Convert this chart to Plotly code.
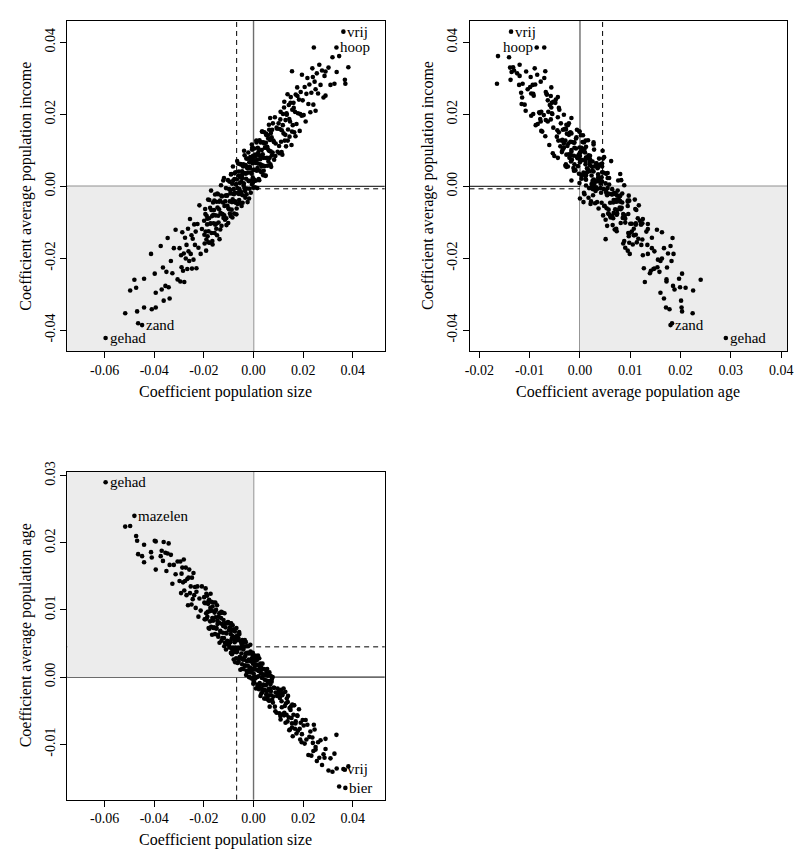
import plotly.graph_objects as go

# ---------------- data (coefficients per word) ----------------
# first six entries are the labelled words
words = ["gehad", "zand", "mazelen", "vrij", "hoop", "bier"]

size = [
    -0.0596, -0.0449, -0.0480, 0.0362, 0.0334, 0.0370,
    -0.0517, -0.0497, -0.0473, -0.0469, -0.0465, -0.0441, -0.0441, -0.0413, -0.0410, -0.0398, -0.0394, -0.0394, -0.0370,
    0.0243, 0.0382, 0.0368, 0.0326, 0.0286, 0.0239, 0.0195, 0.0155, 0.0250, 0.0290,
    -0.0365, -0.0362, -0.0355, -0.0351, -0.0346, -0.0342, -0.0338, -0.0333, -0.0327, -0.0321, -0.0314, -0.0306, -0.0374,
    -0.0298, -0.0295, -0.0292, -0.0290, -0.0287, -0.0284, -0.0281, -0.0279, -0.0276, -0.0273,
    -0.0270, -0.0267, -0.0264, -0.0262, -0.0259, -0.0256, -0.0253, -0.0250, -0.0248, -0.0245,
    -0.0242, -0.0239, -0.0236, -0.0233, -0.0230, -0.0226, -0.0222, -0.0218, -0.0213, -0.0208,
    -0.0199, -0.0197, -0.0195, -0.0193, -0.0191, -0.0189, -0.0187, -0.0185, -0.0183, -0.0181,
    -0.0179, -0.0177, -0.0175, -0.0173, -0.0171, -0.0169, -0.0167, -0.0165, -0.0163, -0.0161,
    -0.0159, -0.0157, -0.0155, -0.0153, -0.0151, -0.0149, -0.0147, -0.0145, -0.0143, -0.0141,
    -0.0139, -0.0137, -0.0135, -0.0133, -0.0131, -0.0129, -0.0127, -0.0125, -0.0123, -0.0121,
    -0.0119, -0.0117, -0.0115, -0.0113, -0.0111, -0.0109, -0.0107, -0.0105, -0.0103, -0.0101,
    -0.0099, -0.0097, -0.0096, -0.0094, -0.0092, -0.0091, -0.0089, -0.0088, -0.0086, -0.0084,
    -0.0083, -0.0081, -0.0080, -0.0078, -0.0077, -0.0075, -0.0073, -0.0072, -0.0070, -0.0069,
    -0.0067, -0.0065, -0.0064, -0.0062, -0.0061, -0.0059, -0.0057, -0.0056, -0.0054, -0.0053,
    -0.0051, -0.0049, -0.0048, -0.0046, -0.0045, -0.0043, -0.0041, -0.0040, -0.0038, -0.0037,
    -0.0035, -0.0033, -0.0032, -0.0030, -0.0029, -0.0027, -0.0025, -0.0024, -0.0022, -0.0021,
    -0.0019, -0.0017, -0.0016, -0.0014, -0.0013, -0.0011, -0.0009, -0.0008, -0.0006, -0.0005,
    -0.0004, -0.0003, -0.0002, -0.0001, -0.0007,
    0.0001, 0.0002, 0.0003, 0.0005, 0.0006, 0.0007, 0.0009, 0.0010, 0.0011, 0.0013,
    0.0014, 0.0015, 0.0017, 0.0018, 0.0019, 0.0021, 0.0022, 0.0024, 0.0025, 0.0027,
    0.0028, 0.0030, 0.0031, 0.0033, 0.0034, 0.0036, 0.0037, 0.0039, 0.0040, 0.0042,
    0.0044, 0.0045, 0.0047, 0.0049, 0.0050, 0.0052, 0.0054, 0.0055, 0.0057, 0.0059,
    0.0061, 0.0063, 0.0065, 0.0067, 0.0069, 0.0071, 0.0073, 0.0075, 0.0077, 0.0080,
    0.0083, 0.0086, 0.0089, 0.0093, 0.0097,
    0.0101, 0.0104, 0.0106, 0.0109, 0.0111, 0.0114, 0.0116, 0.0119, 0.0121, 0.0124,
    0.0126, 0.0129, 0.0131, 0.0134, 0.0137, 0.0139, 0.0142, 0.0145, 0.0147, 0.0150,
    0.0153, 0.0156, 0.0158, 0.0161, 0.0164, 0.0167, 0.0170, 0.0173, 0.0176, 0.0179,
    0.0183, 0.0186, 0.0190, 0.0194, 0.0198,
    0.0202, 0.0206, 0.0210, 0.0213, 0.0217, 0.0221, 0.0225, 0.0229, 0.0233, 0.0237,
    0.0241, 0.0246, 0.0250, 0.0255, 0.0260, 0.0265, 0.0270, 0.0276, 0.0282, 0.0290,
    0.0302, 0.0310, 0.0318, 0.0335, 0.0345,
    -0.0198, -0.0194, -0.0190, -0.0186, -0.0182, -0.0178, -0.0174, -0.0170, -0.0166, -0.0162,
    -0.0158, -0.0154, -0.0150, -0.0146, -0.0142, -0.0138, -0.0134, -0.0130, -0.0126, -0.0122,
    -0.0118, -0.0114, -0.0110, -0.0106, -0.0102,
    -0.0098, -0.0095, -0.0093, -0.0090, -0.0087, -0.0085, -0.0082, -0.0079, -0.0076, -0.0074,
    -0.0071, -0.0068, -0.0066, -0.0063, -0.0060, -0.0058, -0.0055, -0.0052, -0.0050, -0.0047,
    -0.0044, -0.0042, -0.0039, -0.0036, -0.0034, -0.0031, -0.0028, -0.0026, -0.0023, -0.0020,
    -0.0018, -0.0015, -0.0012, -0.0010, -0.0007, -0.0005, -0.0003, -0.0002, -0.0001, 0.0000,
    0.0004, 0.0008, 0.0012, 0.0016, 0.0020, 0.0023, 0.0026, 0.0029, 0.0032, 0.0035,
    0.0038, 0.0041, 0.0043, 0.0046, 0.0048, 0.0051, 0.0053, 0.0056, 0.0058, 0.0060,
    0.0062, 0.0064, 0.0066, 0.0068, 0.0070, 0.0074, 0.0078, 0.0082, 0.0088, 0.0095,
    0.0103, 0.0108, 0.0113, 0.0118, 0.0123, 0.0128, 0.0133, 0.0138, 0.0144, 0.0149,
    0.0155, 0.0162, 0.0169, 0.0177, 0.0188,
]

income = [
    -0.0422, -0.0386, -0.0260, 0.0430, 0.0386, 0.0285,
    -0.0353, -0.0290, -0.0282, -0.0348, -0.0381, -0.0337, -0.0257, -0.0188, -0.0342, -0.0243, -0.0337, -0.0296, -0.0287,
    0.0386, 0.0331, 0.0296, 0.0285, 0.0307, 0.0304, 0.0310, 0.0320, 0.0270, 0.0252,
    -0.0226, -0.0318, -0.0277, -0.0238, -0.0144, -0.0281, -0.0312, -0.0208, -0.0242, -0.0172, -0.0121, -0.0259, -0.0166,
    -0.0172, -0.0265, -0.0192, -0.0225, -0.0128, -0.0235, -0.0187, -0.0266, -0.0143, -0.0201,
    -0.0163, -0.0230, -0.0118, -0.0181, -0.0208, -0.0091, -0.0188, -0.0136, -0.0229, -0.0146,
    -0.0204, -0.0106, -0.0163, -0.0126, -0.0228, -0.0105, -0.0171, -0.0053, -0.0188, -0.0119,
    -0.0096, -0.0159, -0.0063, -0.0126, -0.0179, -0.0082, -0.0106, -0.0139, -0.0037, -0.0125,
    -0.0089, -0.0157, -0.0060, -0.0103, -0.0012, -0.0130, -0.0083, -0.0162, -0.0045, -0.0103,
    -0.0066, -0.0130, -0.0023, -0.0081, -0.0104, -0.0043, -0.0136, -0.0059, -0.0022, -0.0101,
    -0.0064, -0.0147, -0.0040, -0.0074, 0.0003, -0.0110, -0.0028, -0.0077, -0.0045, -0.0088,
    0.0023, -0.0055, -0.0093, -0.0026, -0.0005, -0.0108, -0.0026, -0.0054, 0.0017, -0.0061,
    -0.0064, 0.0013, -0.0042, -0.0010, -0.0083, 0.0033, -0.0020, -0.0065, 0.0007, -0.0036,
    0.0055, -0.0043, -0.0008, -0.0076, 0.0020, -0.0018, 0.0039, -0.0046, 0.0006, -0.0078,
    0.0019, -0.0005, -0.0049, 0.0063, -0.0021, 0.0041, -0.0008, -0.0047, 0.0025, 0.0061,
    -0.0022, 0.0014, -0.0055, 0.0042, 0.0023, -0.0025, 0.0061, 0.0002, 0.0099, -0.0005,
    0.0037, -0.0032, 0.0059, 0.0021, 0.0077, -0.0006, 0.0050, -0.0044, 0.0038, 0.0094,
    0.0015, 0.0067, -0.0007, 0.0050, 0.0081, -0.0018, 0.0069, 0.0035, 0.0102, 0.0018,
    0.0064, 0.0009, 0.0085, 0.0046, 0.0116,
    0.0073, 0.0019, 0.0105, 0.0046, -0.0003, 0.0088, 0.0065, 0.0016, 0.0127, 0.0043,
    0.0074, -0.0005, 0.0107, 0.0063, 0.0094, 0.0020, 0.0086, 0.0128, 0.0044, 0.0075,
    0.0061, 0.0123, 0.0039, 0.0101, 0.0152, 0.0058, 0.0089, 0.0031, 0.0122, 0.0079,
    0.0150, 0.0056, 0.0108, 0.0030, 0.0121, 0.0142, 0.0079, 0.0110, 0.0057, 0.0133,
    0.0100, 0.0157, 0.0079, 0.0190, 0.0097, 0.0054, 0.0136, 0.0157, 0.0094, 0.0127,
    0.0074, 0.0192, 0.0119, 0.0163, 0.0096,
    0.0175, 0.0092, 0.0159, 0.0207, 0.0124, 0.0156, 0.0088, 0.0201, 0.0147, 0.0235,
    0.0127, 0.0184, 0.0111, 0.0199, 0.0256, 0.0158, 0.0226, 0.0138, 0.0180, 0.0248,
    0.0115, 0.0213, 0.0170, 0.0232, 0.0150, 0.0207, 0.0255, 0.0173, 0.0275, 0.0203,
    0.0241, 0.0154, 0.0262, 0.0196, 0.0239,
    0.0198, 0.0276, 0.0180, 0.0257, 0.0301, 0.0229, 0.0283, 0.0206, 0.0260, 0.0328,
    0.0227, 0.0291, 0.0210, 0.0314, 0.0258, 0.0338, 0.0282, 0.0322, 0.0247, 0.0319,
    0.0330, 0.0282, 0.0359, 0.0318, 0.0362,
    -0.0135, -0.0077, -0.0148, -0.0090, -0.0156, -0.0038, -0.0104, -0.0066, -0.0152, -0.0079,
    -0.0040, -0.0107, -0.0118, -0.0020, -0.0082, -0.0043, -0.0120, -0.0026, -0.0078, 0.0016,
    -0.0081, -0.0042, -0.0089, -0.0025, -0.0102,
    -0.0008, -0.0076, -0.0019, 0.0034, -0.0044, -0.0087, 0.0016, -0.0022, 0.0036, -0.0042,
    0.0005, -0.0062, 0.0070, -0.0018, 0.0030, -0.0038, 0.0009, 0.0062, -0.0016, 0.0031,
    -0.0046, 0.0055, 0.0008, 0.0086, -0.0013, 0.0035, -0.0022, 0.0054, 0.0077, 0.0015,
    -0.0034, 0.0054, 0.0077, 0.0038, 0.0006, 0.0108, 0.0024, 0.0070, -0.0004, 0.0082,
    0.0015, 0.0084, 0.0122, 0.0051, 0.0104, 0.0017, 0.0085, 0.0122, 0.0055, 0.0152,
    0.0080, 0.0043, 0.0119, 0.0107, 0.0029, 0.0146, 0.0078, 0.0106, 0.0142, 0.0069,
    0.0171, 0.0098, 0.0129, 0.0061, 0.0148, 0.0086, 0.0175, 0.0123, 0.0084, 0.0160,
    0.0112, 0.0186, 0.0095, 0.0170, 0.0219, 0.0143, 0.0203, 0.0127, 0.0187, 0.0232,
    0.0152, 0.0218, 0.0139, 0.0251, 0.0201,
]

age = [
    0.0290, 0.0180, 0.0240, -0.0137, -0.0086, -0.0165,
    0.0224, 0.0225, 0.0210, 0.0203, 0.0183, 0.0171, 0.0197, 0.0186, 0.0178, 0.0203, 0.0202, 0.0160, 0.0188,
    -0.0071, -0.0133, -0.0138, -0.0114, -0.0120, -0.0098, -0.0085, -0.0069, -0.0104, -0.0092,
    0.0173, 0.0201, 0.0185, 0.0158, 0.0184, 0.0199, 0.0167, 0.0182, 0.0139, 0.0167, 0.0153, 0.0172, 0.0180,
    0.0143, 0.0172, 0.0125, 0.0154, 0.0163, 0.0141, 0.0175, 0.0129, 0.0143, 0.0163,
    0.0122, 0.0146, 0.0107, 0.0148, 0.0160, 0.0125, 0.0135, 0.0108, 0.0148, 0.0116,
    0.0155, 0.0122, 0.0134, 0.0103, 0.0127, 0.0135, 0.0090, 0.0117, 0.0099, 0.0135,
    0.0119, 0.0086, 0.0110, 0.0132, 0.0095, 0.0087, 0.0121, 0.0097, 0.0109, 0.0073,
    0.0115, 0.0098, 0.0083, 0.0124, 0.0075, 0.0099, 0.0063, 0.0105, 0.0084, 0.0111,
    0.0074, 0.0096, 0.0064, 0.0089, 0.0100, 0.0073, 0.0107, 0.0079, 0.0063, 0.0090,
    0.0081, 0.0051, 0.0095, 0.0067, 0.0088, 0.0054, 0.0079, 0.0096, 0.0066, 0.0085,
    0.0058, 0.0095, 0.0051, 0.0074, 0.0041, 0.0065, 0.0080, 0.0049, 0.0082, 0.0053,
    0.0070, 0.0044, 0.0080, 0.0052, 0.0064, 0.0036, 0.0070, 0.0057, 0.0041, 0.0077,
    0.0044, 0.0069, 0.0026, 0.0056, 0.0039, 0.0068, 0.0044, 0.0060, 0.0028, 0.0073,
    0.0038, 0.0055, 0.0021, 0.0044, 0.0058, 0.0027, 0.0064, 0.0030, 0.0043, 0.0011,
    0.0054, 0.0035, 0.0048, 0.0019, 0.0055, 0.0026, 0.0041, 0.0012, 0.0045, 0.0026,
    0.0055, 0.0017, 0.0035, 0.0003, 0.0046, 0.0024, 0.0035, 0.0007, 0.0046, 0.0010,
    0.0026, 0.0000, 0.0035, 0.0014, 0.0048, 0.0008, 0.0025, -0.0002, 0.0028, 0.0012,
    0.0033, -0.0001, 0.0020, -0.0010, 0.0027,
    0.0005, 0.0027, -0.0008, 0.0016, 0.0032, -0.0002, 0.0019, -0.0017, 0.0011, 0.0025,
    0.0000, 0.0018, -0.0011, 0.0032, 0.0001, 0.0011, -0.0018, 0.0016, -0.0009, 0.0020,
    -0.0028, 0.0005, 0.0014, -0.0017, -0.0001, 0.0020, -0.0022, 0.0004, -0.0011, 0.0012,
    -0.0019, -0.0004, -0.0032, 0.0003, -0.0012, 0.0006, -0.0021, 0.0012, -0.0029, -0.0008,
    -0.0035, -0.0006, -0.0044, -0.0017, 0.0002, -0.0027, -0.0007, -0.0034, 0.0000, -0.0029,
    -0.0016, -0.0044, -0.0023, -0.0053, -0.0017,
    -0.0022, -0.0054, -0.0031, -0.0063, -0.0019, -0.0045, -0.0027, -0.0055, -0.0017, -0.0053,
    -0.0043, -0.0068, -0.0039, -0.0032, -0.0066, -0.0028, -0.0060, -0.0046, -0.0078, -0.0044,
    -0.0061, -0.0041, -0.0088, -0.0056, -0.0042, -0.0077, -0.0066, -0.0084, -0.0057, -0.0080,
    -0.0048, -0.0077, -0.0068, -0.0097, -0.0064,
    -0.0072, -0.0099, -0.0064, -0.0093, -0.0071, -0.0116, -0.0089, -0.0081, -0.0117, -0.0090,
    -0.0110, -0.0078, -0.0108, -0.0125, -0.0097, -0.0120, -0.0094, -0.0131, -0.0115, -0.0107,
    -0.0139, -0.0121, -0.0141, -0.0136, -0.0163,
    0.0111, 0.0086, 0.0124, 0.0090, 0.0113, 0.0072, 0.0103, 0.0112, 0.0088, 0.0073,
    0.0098, 0.0111, 0.0072, 0.0084, 0.0060, 0.0095, 0.0069, 0.0097, 0.0058, 0.0076,
    0.0046, 0.0080, 0.0066, 0.0054, 0.0081,
    0.0047, 0.0074, 0.0053, 0.0080, 0.0034, 0.0061, 0.0037, 0.0071, 0.0052, 0.0022,
    0.0058, 0.0037, 0.0062, 0.0042, 0.0023, 0.0067, 0.0029, 0.0043, 0.0052, 0.0012,
    0.0043, 0.0028, 0.0051, 0.0017, 0.0031, 0.0052, 0.0009, 0.0036, 0.0017, 0.0036,
    0.0000, 0.0024, 0.0038, 0.0007, 0.0023, -0.0001, 0.0036, 0.0011, 0.0023, -0.0006,
    0.0025, 0.0000, 0.0027, -0.0013, 0.0009, 0.0028, -0.0012, 0.0008, -0.0024, -0.0001,
    0.0012, -0.0012, -0.0032, 0.0003, 0.0011, -0.0026, -0.0005, -0.0033, 0.0002, -0.0018,
    -0.0027, 0.0007, -0.0035, -0.0011, -0.0021, -0.0003, -0.0038, -0.0016, -0.0051, -0.0028,
    -0.0025, -0.0058, -0.0036, -0.0024, -0.0057, -0.0022, -0.0056, -0.0037, -0.0079, -0.0049,
    -0.0075, -0.0042, -0.0069, -0.0058, -0.0093,
]

# reference (dashed) lines: average coefficients
mean_size = -0.0068
mean_income = -0.0007
mean_age = 0.0045

size_ticks = [-0.06, -0.04, -0.02, 0.0, 0.02, 0.04]
size_labels = ["-0.06", "-0.04", "-0.02", "0.00", "0.02", "0.04"]
income_ticks = [-0.04, -0.02, 0.0, 0.02, 0.04]
income_labels = ["-0.04", "-0.02", "0.00", "0.02", "0.04"]
age_ticks_x = [-0.02, -0.01, 0.0, 0.01, 0.02, 0.03, 0.04]
age_labels_x = ["-0.02", "-0.01", "0.00", "0.01", "0.02", "0.03", "0.04"]
age_ticks_y = [-0.01, 0.0, 0.01, 0.02, 0.03]
age_labels_y = ["-0.01", "0.00", "0.01", "0.02", "0.03"]

title_size = "Coefficient population size"
title_income = "Coefficient average population income"
title_age = "Coefficient average population age"

# labelled words per panel: (word, side)
labels_p1 = [("vrij", "right"), ("hoop", "right"), ("zand", "right"), ("gehad", "right")]
labels_p2 = [("vrij", "right"), ("hoop", "left"), ("zand", "right"), ("gehad", "right")]
labels_p3 = [("gehad", "right"), ("mazelen", "right"), ("vrij", "right"), ("bier", "right")]

# ---------------- layout geometry ----------------
W, H = 800, 856
FONT = "Liberation Serif"
size_range = [-0.0751, 0.05285]
income_range = [-0.0458, 0.0460]
age_range_x = [-0.02196, 0.04118]
age_range_y = [-0.01825, 0.0306]


def px_x(p):
    return p / W


def px_y(p):
    return (H - p) / H


dom_x_left = [px_x(63), px_x(385)]
dom_x_right = [px_x(471), px_x(793)]
dom_y_top = [px_y(345), px_y(11)]
dom_y_bottom = [px_y(799), px_y(467)]


def axis(domain, rng, tv, tt, anchor, angle=0):
    return dict(
        domain=domain, range=rng, tickvals=tv, ticktext=tt, anchor=anchor,
        showline=True, mirror=True, linecolor="black", linewidth=1,
        ticks="outside", ticklen=6, tickwidth=1, tickcolor="black",
        showgrid=False, zeroline=False, tickangle=angle,
        ticklabeloverflow="allow",
        tickfont=dict(family=FONT, size=14, color="black"),
    )


fig = go.Figure()
panels = [
    ("x", "y", size, income),
    ("x2", "y2", age, income),
    ("x3", "y3", size, age),
]
for xa, ya, xv, yv in panels:
    fig.add_trace(go.Scatter(
        x=xv, y=yv, xaxis=xa, yaxis=ya, mode="markers",
        marker=dict(color="black", size=4.6, line=dict(width=0)),
        hoverinfo="skip", showlegend=False,
    ))

shapes = []
GRAY = "#ECECEC"
# shaded quadrants
shapes.append(dict(type="rect", xref="x", yref="y", x0=size_range[0], x1=0,
                   y0=income_range[0], y1=0, fillcolor=GRAY, line=dict(width=0), layer="below"))
shapes.append(dict(type="rect", xref="x2", yref="y2", x0=0, x1=age_range_x[1],
                   y0=income_range[0], y1=0, fillcolor=GRAY, line=dict(width=0), layer="below"))
shapes.append(dict(type="rect", xref="x3", yref="y3", x0=size_range[0], x1=0,
                   y0=0, y1=age_range_y[1], fillcolor=GRAY, line=dict(width=0), layer="below"))


def vline(xref, yref, v, dash):
    col = "#6e6e6e" if dash == "solid" else "black"
    w = 1.4 if dash == "solid" else 1
    return dict(type="line", xref=xref, yref=yref + " domain", x0=v, x1=v, y0=0, y1=1,
                line=dict(color=col, width=w, dash=dash), layer="below")


def hline(xref, yref, v, dash):
    return dict(type="line", xref=xref + " domain", yref=yref, x0=0, x1=1, y0=v, y1=v,
                line=dict(color="black", width=1, dash=dash), layer="below")


DASH = "5px,4px"
shapes += [vline("x", "y", 0, "solid"), hline("x", "y", 0, "solid"),
           vline("x", "y", mean_size, DASH), hline("x", "y", mean_income, DASH)]
shapes += [vline("x2", "y2", 0, "solid"), hline("x2", "y2", 0, "solid"),
           vline("x2", "y2", mean_age, DASH), hline("x2", "y2", mean_income, DASH)]
shapes += [vline("x3", "y3", 0, "solid"), hline("x3", "y3", 0, "solid"),
           vline("x3", "y3", mean_size, DASH), hline("x3", "y3", mean_age, DASH)]

annotations = []


def add_labels(lbls, xa, ya, xv, yv):
    for w, side in lbls:
        k = words.index(w)
        annotations.append(dict(
            x=xv[k], y=yv[k], xref=xa, yref=ya, text=w, showarrow=False,
            xanchor="left" if side == "right" else "right",
            xshift=3 if side == "right" else -3, yanchor="middle", borderpad=0,
            font=dict(family=FONT, size=15, color="black"),
        ))


add_labels(labels_p1, "x", "y", size, income)
add_labels(labels_p2, "x2", "y2", age, income)
add_labels(labels_p3, "x3", "y3", size, age)


def title(text, x, y, angle=0):
    annotations.append(dict(
        x=px_x(x), y=px_y(y), xref="paper", yref="paper", text=text, showarrow=False,
        xanchor="center", yanchor="middle", textangle=angle, borderpad=0,
        font=dict(family=FONT, size=16, color="black"),
    ))


title(title_size, 224, 387)
title(title_income, 21, 178, -90)
title(title_age, 632, 387)
title(title_income, 429, 178, -90)
title(title_size, 224, 840)
title(title_age, 21, 633, -90)

fig.update_layout(
    width=W, height=H, margin=dict(l=0, r=0, t=0, b=0),
    paper_bgcolor="white", plot_bgcolor="white",
    xaxis=axis(dom_x_left, size_range, size_ticks, size_labels, "y"),
    yaxis=axis(dom_y_top, income_range, income_ticks, income_labels, "x", -90),
    xaxis2=axis(dom_x_right, age_range_x, age_ticks_x, age_labels_x, "y2"),
    yaxis2=axis(dom_y_top, income_range, income_ticks, income_labels, "x2", -90),
    xaxis3=axis(dom_x_left, size_range, size_ticks, size_labels, "y3"),
    yaxis3=axis(dom_y_bottom, age_range_y, age_ticks_y, age_labels_y, "x3", -90),
    shapes=shapes, annotations=annotations, showlegend=False,
)

# remove the browser's default 8px body margin so the figure sits at the page origin
fig.write_html(
    "out.html",
    config={"displayModeBar": False, "staticPlot": True},
    post_script="document.body.style.margin='0px';document.body.style.overflow='hidden';",
)
